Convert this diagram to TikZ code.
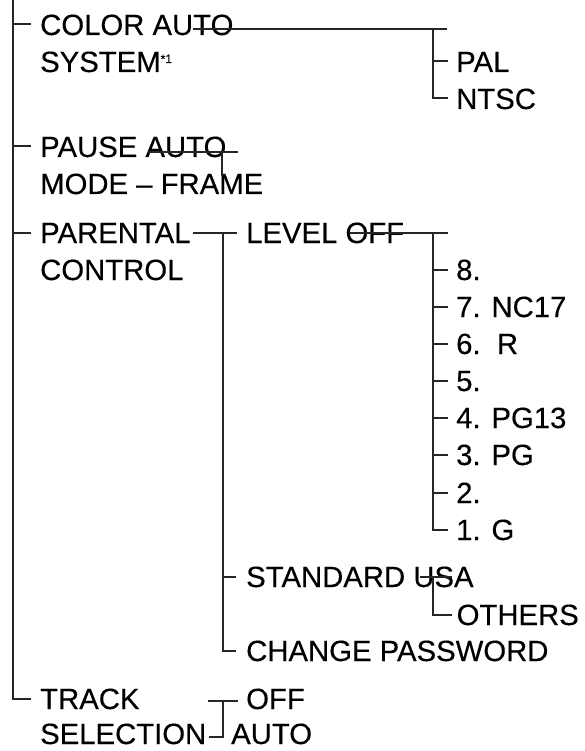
\documentclass[tikz,border=0pt]{standalone}
\usepackage{fontspec}
\setmainfont{Liberation Sans}[FakeBold=0.3]
\begin{document}
\begin{tikzpicture}[x=1pt,y=-1pt,
  lbl/.style={inner sep=0pt, text height=21pt, text depth=0pt, anchor=base west,
              font=\fontsize{29.3}{37}\selectfont, text=black},
  ln/.style={line width=2pt, draw=black!85}]
\useasboundingbox (0,0) rectangle (584,751);
% labels
\node[lbl] (color) at (40,35) {COLOR AUTO};
\node[lbl] (system) at (40,72) {SYSTEM\raisebox{9pt}{\fontsize{12}{12}\selectfont *1}};
\node[lbl] (pal) at (456,72) {PAL};
\node[lbl] (ntsc) at (456,109) {NTSC};
\node[lbl] (pause) at (40,157) {PAUSE AUTO};
\node[lbl] (mode) at (40,194) {MODE – FRAME};
\node[lbl] (parental) at (40,243) {PARENTAL};
\node[lbl] (control) at (40,280) {CONTROL};
\node[lbl] (level) at (246,243) {LEVEL OFF};
\node[lbl] (l8) at (456,280) {8.};
\node[lbl] (l7) at (456,317) {7. NC17};
\node[lbl] (l6) at (456,354) {6.\ \ R};
\node[lbl] (l5) at (456,391) {5.};
\node[lbl] (l4) at (456,428) {4. PG13};
\node[lbl] (l3) at (456,465) {3. PG};
\node[lbl] (l2) at (456,503) {2.};
\node[lbl] (l1) at (456,540) {1. G};
\node[lbl] (standard) at (246,587) {STANDARD USA};
\node[lbl] (others) at (456.5,625) {OTHERS};
\node[lbl] (change) at (246,661) {CHANGE PASSWORD};
\node[lbl] (track) at (40,709) {TRACK};
\node[lbl] (selection) at (40,744) {SELECTION};
\node[lbl] (off) at (246,709) {OFF};
\node[lbl] (auto) at (231,744) {AUTO};
% coordinates
\coordinate (trunk) at (13,0);
\coordinate (cs) at (193,29);
\coordinate (ce) at (447,29);
\coordinate (ct) at (433,29);
\coordinate (ps) at (148,152);
\coordinate (pe) at (238,152);
\coordinate (pv) at (222,152);
\coordinate (pvend) at (222,176);
\coordinate (prs) at (193,0);
\coordinate (pt) at (223,0);
\coordinate (los) at (350,0);
\coordinate (loe) at (448,0);
\coordinate (lt) at (433,0);
\coordinate (us) at (420,0);
\coordinate (ue) at (452,0);
\coordinate (ts) at (208,701);
\coordinate (te) at (238,701);
\coordinate (tv) at (223,701);
\coordinate (tb) at (223,737);
\coordinate (tl) at (209,737);
% main trunk
\draw[ln] (trunk) -- (trunk |- track.west) -- ([xshift=-9pt]track.west);
\foreach \n in {color,pause,parental}
  \draw[ln] (trunk |- \n.west) -- ([xshift=-9pt]\n.west);
% colour system
\draw[ln] (cs) -- (ce);
\draw[ln] (ct) -- (ct |- ntsc.west) -- ([xshift=-8pt]ntsc.west);
\draw[ln] (ct |- pal.west) -- ([xshift=-8pt]pal.west);
% pause
\draw[ln] (ps) -- (pe);
\draw[ln] (pv) -- (pvend);
% parental
\draw[ln] (prs |- level.west) -- ([xshift=-9pt]level.west);
\draw[ln] (pt |- level.west) -- (pt |- change.west) -- ([xshift=-10pt]change.west);
\draw[ln] (pt |- standard.west) -- ([xshift=-10pt]standard.west);
% levels
\draw[ln] (los |- level.west) -- (loe |- level.west);
\draw[ln] (lt |- level.west) -- (lt |- l1.west) -- ([xshift=-8pt]l1.west);
\foreach \n in {l8,l7,l6,l5,l4,l3,l2}
  \draw[ln] (lt |- \n.west) -- ([xshift=-8pt]\n.west);
% standard
\draw[ln] (us |- standard.west) -- (ue |- standard.west);
\draw[ln] (lt |- standard.west) -- (lt |- others.west) -- ([xshift=-4.5pt]others.west);
% track selection
\draw[ln] (ts) -- (te);
\draw[ln] (tv) -- (tb) -- (tl);
\end{tikzpicture}
\end{document}
